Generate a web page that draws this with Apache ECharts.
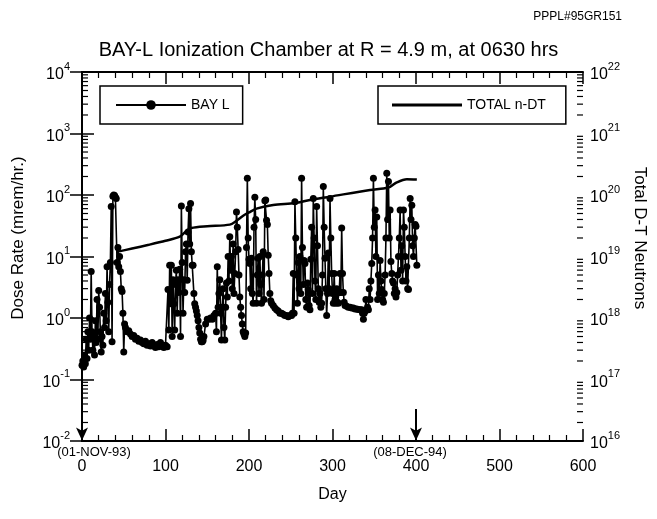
<!DOCTYPE html>
<html>
<head>
<meta charset="utf-8">
<script src="https://cdn.jsdelivr.net/npm/echarts@6/dist/echarts.min.js"></script>
<style>html,body{margin:0;padding:0;background:#fff;}#c{width:657px;height:519px;}</style>
</head>
<body>
<div id="c"></div>
<script>
// ---- data ----
const bayDays = [0,1,2,3,4,5,6,7,8,9,10,11,12,13,14,15,16,17,18,19,20,21,22,23,24,25,26,27,28,29,30,31,32,33,34,35,36,37,38,39,40,41,42,43,44,45,46,47,48,49,50,51,52,54,56,58,60,62,64,66,68,70,72,74,76,78,80,82,84,86,88,90,92,94,96,98,100,102,
103,104,105,106,107,108,109,110,111,112,113,114,115,116,117,118,119,120,121,122,123,124,125,126,127,128,129,130,131,132,133,134,135,136,137,138,139,140,141,142,143,144,145,
146,148,150,152,154,156,158,160,161,162,163,164,165,166,167,168,169,170,171,172,173,174,175,176,177,178,179,180,181,182,183,184,185,186,187,188,189,190,191,192,193,194,195,196,197,
198,199,200,201,202,203,204,205,206,207,208,209,210,211,212,213,214,215,216,217,218,219,220,221,222,223,224,225,226,227,229,231,233,235,237,239,241,243,245,247,249,251,252,
253,254,255,256,257,258,259,260,261,262,263,264,265,266,267,268,269,270,271,272,273,274,275,276,277,278,279,280,281,282,283,284,285,286,287,288,289,290,291,292,293,294,295,296,297,298,299,300,
301,302,303,304,305,306,307,308,309,310,311,312,313,314,315,317,319,321,323,325,327,329,331,333,335,336,337,338,339,340,341,342,343,344,345,346,
347,348,349,350,351,352,353,354,355,356,357,358,359,360,361,362,363,364,365,366,367,368,369,370,371,372,373,374,375,376,377,378,379,380,381,382,383,384,385,386,387,388,389,390,391,392,393,394,395,396,397,398,399,400,401];
const bayDose = [0.17,0.2,0.16,0.25,0.18,0.45,0.22,0.6,0.3,1.0,0.45,5.7,0.6,0.3,0.5,0.25,0.9,0.4,2.0,0.45,2.8,1.5,0.6,0.28,0.5,0.36,1.2,0.7,2.5,0.9,6.8,1.8,0.6,3.5,8,65,0.41,95,100,98,92,88,8,14,6.8,10,5.7,3,2.7,1.2,0.28,0.8,0.7,0.6,0.62,0.55,0.5,0.52,0.45,0.47,0.42,0.44,0.4,0.38,0.42,0.36,0.38,0.35,0.4,0.35,0.33,0.37,0.34,0.4,0.35,0.33,0.36,0.34,
2.9,0.64,7.2,1.7,7.2,0.5,4.2,1.7,0.64,3.5,6,1.2,4.2,2.6,6.2,0.5,66,8,1.2,4.2,2.6,12,16,4.1,25,60,16,73,12,7.2,7.2,2.5,1.7,1.5,1.3,1.1,0.9,0.7,0.57,0.45,0.41,0.41,0.43,
0.5,0.8,0.95,0.95,1.0,0.95,1.1,1.2,0.6,6.8,1.5,2.5,4.2,1.2,0.44,1.5,3.0,0.7,0.44,1.5,3.7,2.2,10,4,21,6,10,3,16,2.5,5.3,12,53,30,13,5,2.2,1.5,1.1,0.8,0.6,0.55,0.5,0.57,14,
187,20,9,7.7,3,9.4,2.5,1.74,30,92,40,1.74,5,9.4,2.5,10,3.5,1.74,5,12,2,81,83,39,33,10.5,5.3,2.5,1.9,1.74,1.6,1.45,1.36,1.3,1.2,1.2,1.15,1.1,1.1,1.05,1.1,1.1,1.2,
5.3,1.2,78,20,5,1.74,8,3,10,2.5,187,14,3.5,8.6,7.7,2,1.5,3.7,2.9,1.6,1.36,9,30,2.5,88,20,4,2,65,15,3,1.8,2.5,1.5,1.74,5,137,30,9.4,3,1.1,2.5,11.4,3,88,20,5.3,2.5,
1.74,5.3,2,1.74,3,1.8,1.74,2.6,5.3,2.6,29,5.3,2.6,1.8,1.6,1.55,1.5,1.5,1.45,1.45,1.4,1.4,1.38,1.36,1.36,1.2,0.95,1.2,1.3,2,1.36,1.5,1.36,3,2,4,
7.7,20,187,30,57,10,44,2.0,5,2.5,8.6,4,2.9,2,1.8,2.5,5,20,225,40,165,20,57,8.3,5.3,4,3.7,2.5,3,2.2,2.6,5,10,20,57,6,15,4,57,30,10,4,6.8,3,2.9,20,88,40,68,15,10,20,33,31,7.2];

const ntDays = [43,60,80,100,117,125,131,150,177,185,193,200,209,229,255,273,297,345,361,369,377,389,401];
const ntTotal = [1.2e19,1.35e19,1.55e19,1.8e19,2.1e19,2.6e19,2.9e19,3.1e19,3.3e19,3.8e19,4.6e19,5.2e19,6.0e19,6.9e19,7.4e19,8.3e19,9.4e19,1.21e20,1.28e20,1.36e20,1.6e20,1.8e20,1.78e20];

const xTicks = [0,100,200,300,400,500,600];
const markDays = [0, 400];
const markLabels = ['(01-NOV-93)', '(08-DEC-94)'];
const seriesNames = ['BAY L', 'TOTAL n-DT'];

// ---- build ----
const FONT = '"Liberation Sans", Arial, Helvetica, sans-serif';
const bayData = bayDays.map((d, i) => [d, bayDose[i]]);
const ntData = ntDays.map((d, i) => [d, ntTotal[i]]);

// minor tick positions for the log axes (2..9 x 10^n)
const minorVals = [];
for (let n = -2; n <= 3; n++) for (let k = 2; k <= 9; k++) minorVals.push([0, k * Math.pow(10, n)]);

function powLabel(v) {
  const e = Math.round(Math.log10(v));
  return '{b|10}{s|' + e + '}';
}
const richSup = {
  b: { fontSize: 16, fontFamily: FONT, color: '#000', lineHeight: 22, verticalAlign: 'bottom' },
  s: { fontSize: 11, fontFamily: FONT, color: '#000', lineHeight: 22, verticalAlign: 'top' }
};

const chart = echarts.init(document.getElementById('c'), null, { renderer: 'canvas' });

const axisLineStyle = { color: '#000', width: 2 };

const option = {
  animation: false,
  backgroundColor: '#fff',
  textStyle: { fontFamily: FONT, color: '#000' },
  title: [
    { text: 'BAY-L Ionization Chamber at R = 4.9 m, at 0630 hrs', left: 'center', top: 35,
      textStyle: { fontSize: 20, fontWeight: 'normal', fontFamily: FONT, color: '#000' } },
    { text: 'PPPL#95GR151', right: 30, top: 6,
      textStyle: { fontSize: 12, fontWeight: 'normal', fontFamily: FONT, color: '#000' } }
  ],
  legend: [
    { data: [seriesNames[0]], left: 100, top: 86, orient: 'horizontal', selectedMode: false,
      itemWidth: 70, itemHeight: 12, itemGap: 8, padding: [12, 13, 12, 15],
      borderColor: '#000', borderWidth: 1.5, borderRadius: 0,
      textStyle: { fontSize: 14, fontFamily: FONT, color: '#000' } },
    { data: [{ name: seriesNames[1], icon: 'rect' }], left: 378, top: 86, orient: 'horizontal', selectedMode: false,
      itemWidth: 70, itemHeight: 3, itemGap: 8, padding: [12, 20, 12, 14],
      borderColor: '#000', borderWidth: 1.5, borderRadius: 0,
      textStyle: { fontSize: 14, fontFamily: FONT, color: '#000', lineHeight: 14 } }
  ],
  grid: { left: 82, right: 74, top: 72, bottom: 78, containLabel: false },
  xAxis: [
    { type: 'value', position: 'bottom', min: 0, max: 600, interval: 100,
      axisLine: { show: true, lineStyle: axisLineStyle },
      axisTick: { show: true, inside: true, length: 12, lineStyle: { color: '#000', width: 1.5 } },
      minorTick: { show: true, splitNumber: 5, length: 6, lineStyle: { color: '#000', width: 1.2 } },
      splitLine: { show: false },
      axisLabel: { fontSize: 16, color: '#000', fontFamily: FONT, margin: 18,
        formatter: v => (xTicks.indexOf(v) >= 0 ? String(v) : '') },
      name: 'Day', nameLocation: 'middle', nameGap: 46,
      nameTextStyle: { fontSize: 16, color: '#000', fontFamily: FONT } },
    { type: 'value', position: 'top', min: 0, max: 600, interval: 100,
      axisLine: { show: true, lineStyle: axisLineStyle },
      axisTick: { show: true, inside: true, length: 12, lineStyle: { color: '#000', width: 1.5 } },
      minorTick: { show: true, splitNumber: 5, length: 6, lineStyle: { color: '#000', width: 1.2 } },
      splitLine: { show: false }, axisLabel: { show: false } }
  ],
  yAxis: [
    { type: 'log', logBase: 10, min: 0.01, max: 10000, splitNumber: 6, position: 'left',
      axisLine: { show: true, lineStyle: axisLineStyle },
      axisTick: { show: true, inside: true, length: 12, lineStyle: { color: '#000', width: 1.5 } },
      splitLine: { show: false },
      axisLabel: { margin: 12, formatter: powLabel, rich: richSup } },
    { type: 'log', logBase: 10, min: 1e16, max: 1e22, splitNumber: 6, position: 'right',
      axisLine: { show: true, lineStyle: axisLineStyle },
      axisTick: { show: true, inside: true, length: 12, lineStyle: { color: '#000', width: 1.5 } },
      splitLine: { show: false },
      axisLabel: { margin: 7, formatter: powLabel, rich: richSup } }
  ],
  series: [
    { name: seriesNames[0], type: 'line', xAxisIndex: 0, yAxisIndex: 0, data: bayData,
      symbol: 'circle', symbolSize: 7, showAllSymbol: true,
      lineStyle: { color: '#000', width: 1.6 }, itemStyle: { color: '#000' },
      emphasis: { disabled: true },
      markLine: { silent: true, symbol: ['none', 'arrow'], symbolSize: [9, 13],
        label: { show: false },
        lineStyle: { color: '#000', width: 2, type: 'solid' },
        data: [
          [{ coord: [markDays[0], 0.045] }, { coord: [markDays[0], 0.0102] }],
          [{ coord: [markDays[1], 0.033] }, { coord: [markDays[1], 0.0102] }]
        ] } },
    { name: seriesNames[1], type: 'line', xAxisIndex: 0, yAxisIndex: 1, data: ntData,
      symbol: 'none', smooth: 0.3,
      lineStyle: { color: '#000', width: 2.5 }, itemStyle: { color: '#000' },
      emphasis: { disabled: true } },
    { name: 'minorTicks', type: 'custom', xAxisIndex: 0, yAxisIndex: 0, data: minorVals,
      silent: true, encode: { x: 0, y: 1 },
      renderItem: function (params, api) {
        const v = api.value(1);
        const pL = api.coord([0, v]);
        const pR = api.coord([600, v]);
        return { type: 'group', children: [
          { type: 'line', shape: { x1: pL[0], y1: pL[1], x2: pL[0] + 6, y2: pL[1] }, style: { stroke: '#000', lineWidth: 1.2 } },
          { type: 'line', shape: { x1: pR[0] - 6, y1: pR[1], x2: pR[0], y2: pR[1] }, style: { stroke: '#000', lineWidth: 1.2 } }
        ] };
      } }
  ]
};
chart.setOption(option);

// names and date annotations placed with the library's own coordinate conversion
const y0 = chart.convertToPixel({ yAxisIndex: 0 }, 0.01);
const d0 = chart.convertToPixel({ xAxisIndex: 0 }, markDays[0]);
const d1 = chart.convertToPixel({ xAxisIndex: 0 }, markDays[1]);
chart.setOption({
  graphic: [
    { type: 'text', x: 18, y: 238, rotation: Math.PI / 2,
      style: { text: 'Dose Rate (mrem/hr.)', fontSize: 17, fontFamily: FONT, fill: '#000', align: 'center', verticalAlign: 'middle' } },
    { type: 'text', x: 640, y: 238, rotation: -Math.PI / 2,
      style: { text: 'Total D-T Neutrons', fontSize: 17, fontFamily: FONT, fill: '#000', align: 'center', verticalAlign: 'middle' } },
    { type: 'text', x: d0 + 12, y: y0 + 11,
      style: { text: markLabels[0], fontSize: 13, fontFamily: FONT, fill: '#000', align: 'center', verticalAlign: 'middle' } },
    { type: 'text', x: d1 - 6, y: y0 + 11,
      style: { text: markLabels[1], fontSize: 13, fontFamily: FONT, fill: '#000', align: 'center', verticalAlign: 'middle' } }
  ]
});
</script>
</body>
</html>
